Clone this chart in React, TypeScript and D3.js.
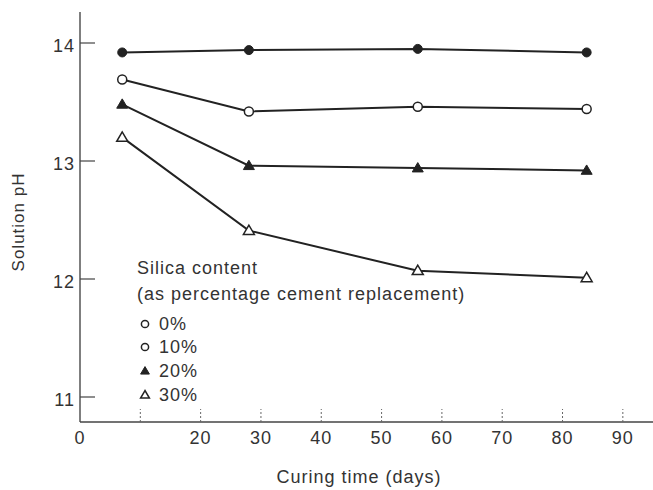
import React from "react";
import * as d3 from "d3";

const days = [7, 28, 56, 84];
const ph0 = [13.92, 13.94, 13.95, 13.92];
const ph10 = [13.69, 13.42, 13.46, 13.44];
const ph20 = [13.48, 12.96, 12.94, 12.92];
const ph30 = [13.2, 12.41, 12.07, 12.01];
const seriesLabels = ["0%", "10%", "20%", "30%"];
const xTicks = [10, 20, 30, 40, 50, 60, 70, 80, 90];
const xTickLabels = ["20", "30", "40", "50", "60", "70", "80", "90"];
const yTicks = [11, 12, 13, 14];

const W = 653;
const H = 490;
const font = "'Liberation Sans', Arial, sans-serif";
const ink = "#222";
const txt = "#333";

function Marker({ kind, cx, cy, size = 1 }: { kind: number; cx: number; cy: number; size?: number }) {
  const r = 4.5 * size;
  if (kind === 0) return <circle cx={cx} cy={cy} r={r} fill={ink} stroke={ink} strokeWidth={1} />;
  if (kind === 1) return <circle cx={cx} cy={cy} r={r} fill="#fff" stroke={ink} strokeWidth={1.5} />;
  const t = 5.5 * size;
  const pts = `${cx},${cy - t} ${cx - t},${cy + t * 0.7} ${cx + t},${cy + t * 0.7}`;
  if (kind === 2) return <polygon points={pts} fill={ink} stroke={ink} strokeWidth={1} />;
  return <polygon points={pts} fill="#fff" stroke={ink} strokeWidth={1.5} />;
}

export default function App() {
  const x = d3.scaleLinear().domain([0, 95]).range([80, 653]);
  const y = d3.scaleLinear().domain([11, 14]).range([397, 43]);
  const series = [ph0, ph10, ph20, ph30];
  const line = d3
    .line<[number, number]>()
    .x((d) => x(d[0]))
    .y((d) => y(d[1]));
  const yBottom = 422;
  const yTop = 12;
  const legendBase = [330, 353, 377, 401];

  return (
    <svg
      width={W}
      height={H}
      style={{ position: "absolute", left: 0, top: 0, background: "#fff" }}
      fontFamily={font}
      letterSpacing={1}
    >
      <rect width={W} height={H} fill="#fff" />
      {/* axes */}
      <line x1={x(0)} x2={x(0)} y1={yTop} y2={yBottom} stroke="#555" strokeWidth={1.5} />
      <line x1={x(0)} x2={W} y1={yBottom} y2={yBottom} stroke="#444" strokeWidth={1.5} />
      {yTicks.map((t) => (
        <g key={t}>
          <line x1={x(0)} x2={x(0) + 15} y1={y(t)} y2={y(t)} stroke="#444" strokeWidth={1.2} />
          <text x={x(0) - 5} y={y(t) + 9} textAnchor="end" fontSize={18} fill={txt}>
            {t}
          </text>
        </g>
      ))}
      {xTicks.map((t) => (
        <line
          key={t}
          x1={x(t)}
          x2={x(t)}
          y1={yBottom}
          y2={yBottom - 13}
          stroke="#666"
          strokeWidth={1}
          strokeDasharray="2,2"
        />
      ))}
      <text x={x(0)} y={444} textAnchor="middle" fontSize={18} fill={txt}>
        0
      </text>
      {xTickLabels.map((l) => (
        <text key={l} x={x(+l)} y={444} textAnchor="middle" fontSize={18} fill={txt}>
          {l}
        </text>
      ))}
      <text x={359} y={483} textAnchor="middle" fontSize={18} fill={txt}>
        Curing time (days)
      </text>
      <text
        transform="translate(24,222) rotate(-90)"
        textAnchor="middle"
        fontSize={17}
        fill={txt}
      >
        Solution pH
      </text>
      {/* series */}
      {series.map((vals, i) => {
        const pts = days.map((d, j) => [d, vals[j]] as [number, number]);
        return (
          <g key={i}>
            <path d={line(pts) || ""} fill="none" stroke={ink} strokeWidth={2} />
            {pts.map((p, j) => (
              <Marker key={j} kind={i} cx={x(p[0])} cy={y(p[1])} />
            ))}
          </g>
        );
      })}
      {/* legend */}
      <text x={137} y={274} fontSize={18} fill={txt}>
        Silica content
      </text>
      <text x={137} y={300} fontSize={18} fill={txt}>
        (as percentage cement replacement)
      </text>
      {seriesLabels.map((l, i) => (
        <g key={l}>
          <Marker kind={i === 0 ? 1 : i} cx={145} cy={legendBase[i] - 6} size={0.8} />
          <text x={159} y={legendBase[i]} fontSize={18} fill={txt}>
            {l}
          </text>
        </g>
      ))}
    </svg>
  );
}
